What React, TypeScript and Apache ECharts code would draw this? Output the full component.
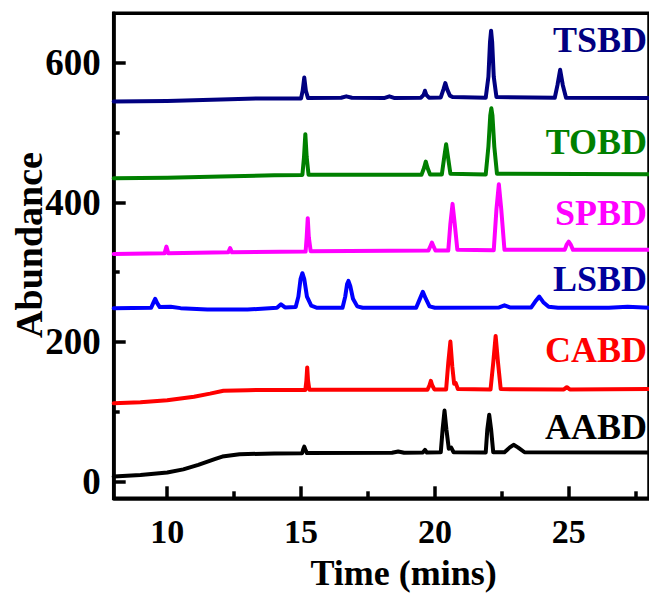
import React, { useEffect, useRef } from "react";
import * as echarts from "echarts";

// Chromatogram traces: [retention time (mins), abundance]
const tsbd: [number, number][] = [
  [8, 544.5], [10, 545.5], [12, 547.5], [13.5, 549], [15.0, 549], [15.06, 560], [15.12, 579], [15.18, 560], [15.26, 549.5],
  [16.5, 550], [16.69, 552], [16.9, 550], [18.1, 549.5], [18.3, 552], [18.5, 549.5], [19.48, 550], [19.58, 554], [19.63, 560],
  [19.68, 554], [19.78, 550], [20.22, 550.5], [20.32, 562], [20.39, 571], [20.46, 562], [20.56, 553], [20.66, 551], [21.9, 550],
  [22.0, 580], [22.06, 630], [22.1, 646], [22.14, 630], [22.2, 580], [22.3, 551], [24.48, 550], [24.58, 568], [24.68, 590],
  [24.78, 568], [24.9, 550], [28, 549.5],
];

const tobd: [number, number][] = [
  [8, 434.7], [10, 435.5], [12, 437], [14, 439], [15.05, 439.4], [15.11, 465], [15.16, 497.7], [15.21, 465], [15.28, 439.5],
  [19.5, 439.5], [19.6, 450], [19.66, 458.5], [19.72, 450], [19.82, 440], [20.26, 440], [20.35, 465], [20.42, 483.4],
  [20.49, 465], [20.58, 441], [21.9, 440], [22.0, 480], [22.07, 525], [22.11, 535], [22.15, 525], [22.22, 480], [22.32, 441],
  [28, 440.5],
];

const spbd: [number, number][] = [
  [8, 326], [9.9, 327], [9.97, 336.7], [10.04, 327], [12.28, 328.5], [12.35, 334.4], [12.42, 328.5], [15.17, 329.5],
  [15.21, 350], [15.25, 377.4], [15.29, 350], [15.36, 330], [19.76, 331], [19.84, 338], [19.89, 342.4], [19.94, 338],
  [20.02, 331], [20.5, 331], [20.58, 370], [20.66, 397.9], [20.74, 370], [20.84, 332], [22.2, 331.5], [22.3, 390],
  [22.39, 426], [22.48, 390], [22.6, 332], [24.85, 332], [24.93, 340], [25.0, 343.8], [25.07, 340], [25.16, 332], [28, 332],
];

const lsbd: [number, number][] = [
  [8, 248.4], [9.4, 249], [9.48, 256], [9.55, 262], [9.62, 256], [9.72, 250], [10.13, 250.5], [10.5, 248.5], [11.5, 246.5],
  [13, 246.5], [14.1, 249], [14.25, 254], [14.4, 249.5], [14.8, 250], [14.9, 265], [14.98, 290], [15.05, 298.6], [15.12, 290],
  [15.22, 265], [15.38, 252], [15.6, 249], [16.55, 249], [16.65, 265], [16.72, 283], [16.77, 287.5], [16.84, 280],
  [16.94, 262], [17.1, 251], [17.3, 249], [19.3, 249], [19.42, 260], [19.55, 272], [19.66, 262], [19.8, 251], [20.0, 249],
  [22.4, 249.5], [22.6, 252.5], [22.8, 249.5], [23.6, 249.5], [23.75, 258], [23.9, 265], [24.05, 257], [24.25, 250.5],
  [24.6, 249], [26.5, 249], [27.2, 250.5], [28, 249],
];

const cabd: [number, number][] = [
  [8, 112.3], [9, 113.5], [10, 116.5], [11, 121.5], [11.6, 126], [12.1, 130.2], [13, 131], [15.16, 131.3], [15.2, 145],
  [15.23, 163.5], [15.26, 145], [15.31, 131.5], [19.72, 131.5], [19.8, 138], [19.85, 144.3], [19.9, 138], [19.98, 132],
  [20.42, 132], [20.5, 170], [20.58, 200.6], [20.65, 165], [20.72, 140], [20.78, 141], [20.86, 132.5], [22.08, 132],
  [22.18, 170], [22.27, 208.7], [22.36, 170], [22.46, 132.5], [24.82, 132], [24.93, 135.2], [25.04, 132], [28, 132.8],
];

const aabd: [number, number][] = [
  [8, 7.2], [9, 9.5], [10, 12.9], [10.6, 17.5], [11.16, 23.9], [11.8, 32.5], [12.06, 35.8], [12.7, 39.2], [14, 40.3],
  [15.04, 40.6], [15.08, 46], [15.12, 50.1], [15.16, 46], [15.22, 40.8], [18.4, 41.2], [18.63, 43], [18.85, 41.2],
  [19.55, 41.5], [19.63, 45.4], [19.7, 41.6], [20.22, 42], [20.29, 75], [20.36, 101.7], [20.43, 75], [20.52, 47],
  [20.61, 48.7], [20.7, 42], [21.9, 41.8], [21.96, 75], [22.03, 95.6], [22.1, 75], [22.18, 42], [22.6, 42], [22.8, 49],
  [22.94, 52.6], [23.1, 49], [23.35, 42], [28, 41.5],
];

const sampleNames = ["TSBD", "TOBD", "SPBD", "LSBD", "CABD", "AABD"];
const sampleData = [tsbd, tobd, spbd, lsbd, cabd, aabd];
const lineColors = ["#000080", "#008000", "#FF00FF", "#0000FF", "#FF0000", "#000000"];
const labelColors = ["#000080", "#008000", "#FF00FF", "#00009C", "#FF0000", "#000000"];

const xMajorTicks = [10, 15, 20, 25];
const xMinorTicks = [12.5, 17.5, 22.5, 27.5];
const yMajorTicks = [0, 200, 400, 600];
const yMinorTicks = [100, 300, 500];

const FONT = "'Liberation Serif', 'Times New Roman', serif";

export default function App() {
  const ref = useRef<HTMLDivElement>(null);

  useEffect(() => {
    if (!ref.current) return;
    const chart = echarts.init(ref.current, undefined, { renderer: "svg" });

    const labelY = [40, 142, 213, 279, 350, 427];

    const axisBase = {
      type: "value" as const,
      splitLine: { show: false },
    };

    chart.setOption({
      animation: false,
      backgroundColor: "#ffffff",
      grid: {
        left: 113.7,
        top: 13.3,
        right: -7,
        bottom: 95.7,
        show: true,
        borderColor: "#000",
        borderWidth: 3.5,
        backgroundColor: "transparent",
      },
      xAxis: [
        {
          ...axisBase,
          min: 8,
          max: 28,
          position: "bottom",
          axisLine: { show: true, onZero: false, lineStyle: { color: "#000", width: 3.5 } },
          axisTick: { show: true, inside: true, length: 12, customValues: xMajorTicks, lineStyle: { color: "#000", width: 3.5 } },
          axisLabel: {
            show: true,
            customValues: xMajorTicks,
            margin: 16,
            fontFamily: FONT,
            fontWeight: "bold",
            fontSize: 34,
            color: "#000",
          },
        },
        {
          ...axisBase,
          min: 8,
          max: 28,
          position: "bottom",
          axisLine: { show: false, onZero: false },
          axisTick: { show: true, inside: true, length: 7, customValues: xMinorTicks, lineStyle: { color: "#000", width: 3.5 } },
          axisLabel: { show: false },
        },
      ],
      yAxis: [
        {
          ...axisBase,
          min: -24,
          max: 671,
          position: "left",
          axisLine: { show: true, onZero: false, lineStyle: { color: "#000", width: 3.5 } },
          axisTick: { show: true, inside: true, length: 12, customValues: yMajorTicks, lineStyle: { color: "#000", width: 3.5 } },
          axisLabel: {
            show: true,
            customValues: yMajorTicks,
            margin: 13,
            fontFamily: FONT,
            fontWeight: "bold",
            fontSize: 37,
            color: "#000",
          },
        },
        {
          ...axisBase,
          min: -24,
          max: 671,
          position: "left",
          axisLine: { show: false, onZero: false },
          axisTick: { show: true, inside: true, length: 6, customValues: yMinorTicks, lineStyle: { color: "#000", width: 3.5 } },
          axisLabel: { show: false },
        },
      ],
      series: sampleNames.map((name, i) => ({
        name,
        type: "line",
        xAxisIndex: 0,
        yAxisIndex: 0,
        data: sampleData[i],
        showSymbol: false,
        symbol: "none",
        smooth: false,
        lineStyle: { color: lineColors[i], width: 4, join: "round", cap: "round" },
        z: 2 + i,
      })),
      graphic: [
        ...sampleNames.map((name, i) => ({
          type: "text",
          x: 647,
          y: labelY[i],
          style: {
            text: name,
            fill: labelColors[i],
            font: `bold 36px ${FONT}`,
            align: "right",
            verticalAlign: "middle",
          },
          z: 10,
        })),
        {
          type: "text",
          x: 403.6,
          y: 573,
          style: {
            text: "Time (mins)",
            fill: "#000",
            font: `bold 36px ${FONT}`,
            align: "center",
            verticalAlign: "middle",
          },
        },
        {
          type: "text",
          x: 29,
          y: 245,
          rotation: Math.PI / 2,
          style: {
            text: "Abundance",
            fill: "#000",
            font: `bold 38px ${FONT}`,
            align: "center",
            verticalAlign: "middle",
          },
        },
      ],
    });

    return () => chart.dispose();
  }, []);

  return (
    <div
      ref={ref}
      style={{ position: "fixed", left: 0, top: 0, width: 649, height: 594, background: "#fff" }}
    />
  );
}
